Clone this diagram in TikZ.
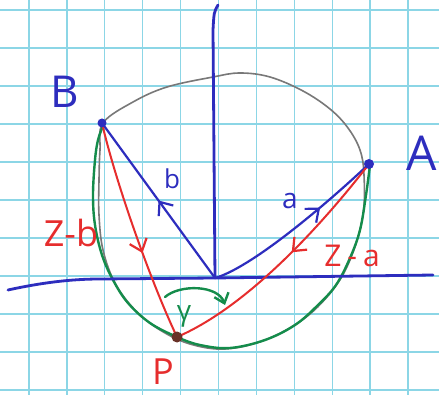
\documentclass[tikz,border=0pt]{standalone}
\usepackage{fontspec}
\setmainfont{Open Sans}
\usetikzlibrary{arrows.meta,decorations.markings}
\definecolor{gridc}{RGB}{140,214,230}
\definecolor{penblue}{RGB}{45,45,190}
\definecolor{penred}{RGB}{230,45,45}
\definecolor{pengreen}{RGB}{20,140,75}
\definecolor{pencil}{RGB}{120,120,120}
\definecolor{dotbrown}{RGB}{105,50,40}
\tikzset{
  gridline/.style={gridc, line width=1.3pt},
  axisline/.style={penblue, line width=2.8pt, line cap=round},
  bluevec/.style={penblue, line width=2.2pt, line cap=round},
  redvec/.style={penred, line width=2pt, line cap=round},
  greenpen/.style={pengreen, line width=2.4pt, line cap=round},
  pencilline/.style={pencil, line width=1.6pt},
  chevtip/.tip={Straight Barb[length=11pt,width=18pt,line width=2.2pt]},
  midarrow/.style={decoration={markings, mark=at position #1 with {\arrow{chevtip}}}, postaction={decorate}},
  lab/.style={inner sep=0pt, anchor=center},
}
\begin{document}
\begin{tikzpicture}[x=1pt,y=-1pt]
\useasboundingbox (0,0) rectangle (439,395);
\fill[white] (0,0) rectangle (439,395);
\foreach \k in {0,...,10} {
  \draw[gridline] ({29+37.9*\k},0) -- ({29+37.9*\k},395);
  \draw[gridline] (0,{10+38*\k}) -- (439,{10+38*\k});
}
\coordinate (O) at (215,278);
\coordinate (A) at (369,164);
\coordinate (B) at (102,123);
\coordinate (P) at (177,337);
\coordinate (ytop) at (218,5);
\coordinate (xl) at (8,290);
\coordinate (xr) at (433,275);
% pencil circle
\draw[pencilline] plot[smooth cycle, tension=0.6] coordinates {
  (103,123) (133,102) (167,87) (213,77) (240,73) (270,77) (303,91) (330,109)
  (348,128) (360,150) (364,175) (363,215) (352,255) (335,287) (305,318)
  (265,340) (225,349) (190,344) (160,330) (135,310) (115,283) (103,250)
  (99,215) (99,180) (100,150)};
% green arc
\draw[greenpen] plot[smooth, tension=0.6] coordinates {
  (370,165) (366,195) (360,230) (350,258) (336,285) (318,305) (295,325)
  (265,340) (230,348) (200,345) (177,337) (150,323) (128,303) (113,280)
  (102,255) (95,225) (93,195) (95,160) (98,140) (103,126)};
% axes
\draw[axisline] (ytop) .. controls (214,12) .. (213,30) -- (O);
\draw[axisline] (xl) .. controls (40,283) and (70,279) .. (100,279) -- (O) -- (xr);
% vectors
\draw[bluevec, midarrow=0.5] (O) -- (B);
\draw[bluevec, midarrow=0.66] (O) .. controls (250,268) and (320,210) .. (A);
\draw[redvec, midarrow=0.6] (B) .. controls (115,180) and (150,280) .. (P);
\draw[redvec, midarrow=0.45] (A) .. controls (310,240) and (240,310) .. (P);
% gamma arc
\coordinate (g1) at (165,297);
\coordinate (g2) at (225,305);
\draw[greenpen, -{Straight Barb[length=9pt,width=15pt]}] (g1) .. controls (180,284) and (218,285) .. (g2);
% dots
\fill[penblue] (B) circle (4.5);
\fill[penblue] (A) circle (5);
\fill[dotbrown] (P) circle (5.5);
% labels
\node[lab, penblue, font=\fontsize{44}{44}\selectfont] (labB) at (65,92) {B};
\node[lab, penblue, font=\fontsize{48}{48}\selectfont] (labA) at (422,153) {A};
\node[lab, penblue, font=\fontsize{26}{26}\selectfont] (labb) at (172,179) {b};
\node[lab, penblue, font=\fontsize{28}{28}\selectfont] (laba) at (290,201) {a};
\node[lab, penred, font=\fontsize{36}{36}\selectfont] (labzb) at (71,233) {Z-b};
\node[lab, penred, font=\fontsize{30}{30}\selectfont] (labza) at (352,256) {Z\hspace{6pt}-\hspace{6pt}a};
\node[lab, penred, font=\fontsize{36}{36}\selectfont] (labP) at (163,372) {P};
\node[lab, pengreen, font=\fontsize{28}{28}\selectfont] (labg) at (184,316) {γ};
\end{tikzpicture}
\end{document}
